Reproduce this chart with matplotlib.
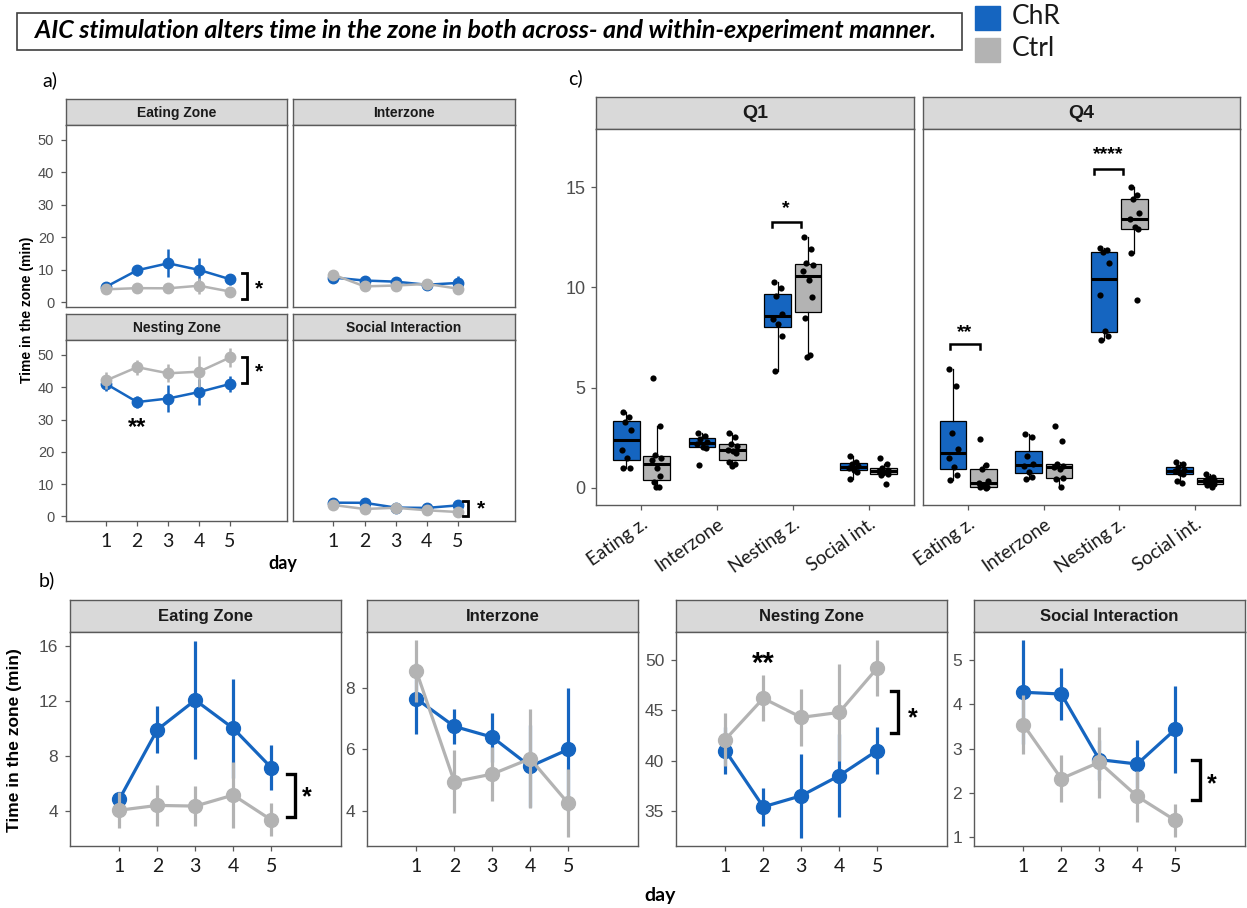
import matplotlib
matplotlib.use('Agg')
import matplotlib.pyplot as plt
from matplotlib.patches import Rectangle

W, H = 1247, 908
BLUE = '#1565C0'
GREY = '#B3B3B3'
EDGE = '#5a5a5a'
ARIAL = ['Liberation Sans', 'DejaVu Sans']
CALI = ['Lato', 'DejaVu Sans']

# mean time in zone per day (min) and error
days = [1, 2, 3, 4, 5]
eat_chr = [4.85, 9.9, 12.05, 10.0, 7.15]
eat_chr_se = [0.55, 1.7, 4.3, 3.6, 1.65]
eat_ctrl = [4.05, 4.4, 4.35, 5.15, 3.35]
eat_ctrl_se = [1.3, 1.5, 1.45, 2.4, 1.2]
inter_chr = [7.65, 6.75, 6.4, 5.45, 6.0]
inter_chr_se = [1.15, 0.58, 0.8, 1.33, 2.0]
inter_ctrl = [8.55, 4.95, 5.2, 5.7, 4.25]
inter_ctrl_se = [1.0, 1.02, 0.87, 1.6, 1.1]
nest_chr = [41.0, 35.4, 36.5, 38.5, 41.0]
nest_chr_se = [2.3, 1.9, 4.2, 4.1, 2.35]
nest_ctrl = [42.1, 46.2, 44.3, 44.8, 49.2]
nest_ctrl_se = [2.6, 2.3, 2.8, 4.8, 2.8]
soc_chr = [4.27, 4.23, 2.75, 2.65, 3.43]
soc_chr_se = [1.17, 0.58, 0.45, 0.55, 0.99]
soc_ctrl = [3.54, 2.32, 2.69, 1.92, 1.38]
soc_ctrl_se = [0.66, 0.53, 0.8, 0.58, 0.37]

zone_names = ['Eating Zone', 'Interzone', 'Nesting Zone', 'Social Interaction']
zone_short = ['Eating z.', 'Interzone', 'Nesting z.', 'Social int.']

# per-animal time in zone, first (Q1) and last (Q4) quarter
q1_eat_chr = [3.78, 3.54, 3.28, 2.88, 1.91, 1.5, 0.98, 0.98]
q1_eat_ctrl = [5.5, 3.1, 1.65, 1.5, 1.4, 1.0, 0.6, 0.3, 0.05, 0.05]
q1_inter_chr = [2.75, 2.6, 2.45, 2.3, 2.2, 2.05, 2.0, 1.15]
q1_inter_ctrl = [2.75, 2.55, 2.2, 2.1, 1.9, 1.85, 1.75, 1.3, 1.2, 1.1]
q1_nest_chr = [10.25, 9.95, 9.55, 8.65, 8.45, 8.2, 7.6, 5.85]
q1_nest_ctrl = [12.5, 11.9, 11.2, 11.1, 10.8, 10.35, 9.5, 8.5, 6.65, 6.55]
q1_soc_chr = [1.6, 1.3, 1.2, 1.1, 1.0, 0.9, 0.8, 0.45]
q1_soc_ctrl = [1.5, 1.2, 1.0, 0.9, 0.85, 0.8, 0.7, 0.65, 0.2]
q4_eat_chr = [5.95, 5.1, 2.75, 1.95, 1.5, 1.05, 0.65, 0.4]
q4_eat_ctrl = [2.45, 1.15, 0.95, 0.35, 0.25, 0.12, 0.05, 0.03, 0.02]
q4_inter_chr = [2.7, 2.55, 1.6, 1.2, 1.1, 0.8, 0.55, 0.45]
q4_inter_ctrl = [3.1, 2.35, 1.2, 1.1, 1.05, 0.95, 0.5, 0.45, 0.05]
q4_nest_chr = [11.95, 11.85, 11.75, 11.2, 9.6, 7.85, 7.6, 7.4]
q4_nest_ctrl = [15.0, 14.6, 14.4, 13.7, 13.4, 13.0, 12.9, 11.7, 9.35]
q4_soc_chr = [1.3, 1.2, 1.05, 0.9, 0.85, 0.75, 0.7, 0.35, 0.25]
q4_soc_ctrl = [0.7, 0.55, 0.5, 0.4, 0.35, 0.3, 0.2, 0.15, 0.05]

JIT = [-0.05, 0.04, -0.02, 0.06, -0.06, 0.01, 0.05, -0.04, 0.03, -0.01]

fig = plt.figure(figsize=(W / 100, H / 100), dpi=100)


def px_axes(x0, y0, x1, y1):
    return fig.add_axes([x0 / W, 1 - y1 / H, (x1 - x0) / W, (y1 - y0) / H])


def px_text(x, y, s, **kw):
    fig.text(x / W, 1 - y / H, s, **kw)


def strip(x0, y0, x1, y1, label, size):
    ax = px_axes(x0, y0, x1, y1)
    ax.set_facecolor('#D9D9D9')
    ax.set_xticks([])
    ax.set_yticks([])
    for s in ax.spines.values():
        s.set_color(EDGE)
        s.set_linewidth(1.0)
    ax.text(0.5, 0.47, label, ha='center', va='center', fontsize=size,
            fontweight='bold', color='#1a1a1a', family=ARIAL, transform=ax.transAxes)


def frame(ax, ysize, xsize):
    for s in ax.spines.values():
        s.set_color(EDGE)
        s.set_linewidth(1.0)
    ax.tick_params(color=EDGE, length=3.5, width=0.9)
    for t in ax.get_yticklabels():
        t.set_family(ARIAL)
        t.set_fontsize(ysize)
        t.set_color('#4d4d4d')
    for t in ax.get_xticklabels():
        t.set_family(CALI)
        t.set_fontsize(xsize)
        t.set_color('#1a1a1a')


def day_lines(ax, cm, cse, gm, gse, ms, lw):
    ax.errorbar(days, cm, yerr=cse, color=BLUE, lw=lw, elinewidth=lw, marker='o',
                ms=ms, capsize=0, zorder=2)
    ax.errorbar(days, gm, yerr=gse, color=GREY, lw=lw, elinewidth=lw, marker='o',
                ms=ms, capsize=0, zorder=3)
    ax.set_xlim(-0.3, 6.84)
    ax.set_xticks(days)


def bracket_v(ax, x, y0, y1, tick, lw):
    ax.plot([x - tick, x, x, x - tick], [y1, y1, y0, y0], color='black', lw=lw,
            clip_on=False, solid_joinstyle='miter', zorder=5)


def bracket_h(ax, x0, x1, y, drop):
    ax.plot([x0, x0, x1, x1], [y - drop, y, y, y - drop], color='black', lw=1.8,
            clip_on=False, solid_joinstyle='miter', zorder=5)


def star(ax, x, y, s, size):
    ax.text(x, y, s, ha='center', va='center', fontsize=size, fontweight='bold',
            family=ARIAL, color='black', clip_on=False, zorder=6)


# ---- title and legend ----
fig.patches.append(Rectangle((17 / W, 1 - 50 / H), (962 - 17) / W, 37 / H,
                             transform=fig.transFigure, fill=False, ec='#404040', lw=1.2))
px_text(486, 31, 'AIC stimulation alters time in the zone in both across- and within-experiment manner.',
        ha='center', va='center', fontsize=18, fontweight='bold', style='italic',
        family=CALI, color='black')
fig.patches.append(Rectangle((975 / W, 1 - 30 / H), 25 / W, 24 / H,
                             transform=fig.transFigure, color=BLUE))
fig.patches.append(Rectangle((975 / W, 1 - 62 / H), 25 / W, 24 / H,
                             transform=fig.transFigure, color=GREY))
px_text(1012, 17, 'ChR', ha='left', va='center', fontsize=19, family=CALI, color='#1a1a1a')
px_text(1012, 49, 'Ctrl', ha='left', va='center', fontsize=19, family=CALI, color='#1a1a1a')

# ---- panel a: all zones on a common scale ----
px_text(50, 80, 'a)', ha='center', va='center', fontsize=14, family=CALI)
a_series = [(eat_chr, eat_chr_se, eat_ctrl, eat_ctrl_se),
            (inter_chr, inter_chr_se, inter_ctrl, inter_ctrl_se),
            (nest_chr, nest_chr_se, nest_ctrl, nest_ctrl_se),
            (soc_chr, soc_chr_se, soc_ctrl, soc_ctrl_se)]
a_cols = [(66, 287), (293, 515)]
a_rows = [(99, 125, 307), (314, 340, 521)]
a_axes = []
for i, (name, ser) in enumerate(zip(zone_names, a_series)):
    r, c = divmod(i, 2)
    x0, x1 = a_cols[c]
    s0, p0, p1 = a_rows[r]
    strip(x0, s0, x1, p0, name, 10)
    ax = px_axes(x0, p0, x1, p1)
    day_lines(ax, *ser, ms=7.5, lw=1.8)
    ax.set_ylim(-1.4, 54.6)
    ax.set_yticks([0, 10, 20, 30, 40, 50])
    ax.tick_params(left=(c == 0), labelleft=(c == 0),
                   bottom=(r == 1), labelbottom=(r == 1), pad=5)
    frame(ax, 10.5, 14)
    a_axes.append(ax)

bracket_v(a_axes[0], 5.55, 1.0, 9.0, 0.16, 2.0)
star(a_axes[0], 5.95, 4.2, '*', 15)
bracket_v(a_axes[2], 5.55, 41.4, 49.4, 0.16, 2.0)
star(a_axes[2], 5.95, 44.6, '*', 15)
bracket_v(a_axes[3], 5.32, 0.0, 4.9, 0.16, 2.0)
star(a_axes[3], 5.74, 2.4, '*', 15)
star(a_axes[2], 2.0, 27.5, '**', 17)
px_text(27, 310, 'Time in the zone (min)', ha='center', va='center', rotation=90,
        fontsize=10, fontweight='bold', family=ARIAL)
px_text(283, 563, 'day', ha='center', va='center', fontsize=13, fontweight='bold', family=CALI)

# ---- panel b: each zone on its own scale ----
px_text(47, 580, 'b)', ha='center', va='center', fontsize=14, family=CALI)
b_cols = [(70, 341), (367, 638), (676, 947), (974, 1245)]
b_ylims = [(1.45, 17.0), (2.86, 9.82), (31.5, 52.8), (0.8, 5.63)]
b_yticks = [[4, 8, 12, 16], [4, 6, 8], [35, 40, 45, 50], [1, 2, 3, 4, 5]]
b_axes = []
for name, ser, (x0, x1), yl, yt in zip(zone_names, a_series, b_cols, b_ylims, b_yticks):
    strip(x0, 600, x1, 632, name, 12)
    ax = px_axes(x0, 632, x1, 846)
    day_lines(ax, *ser, ms=10, lw=2.3)
    ax.set_ylim(*yl)
    ax.set_yticks(yt)
    ax.tick_params(pad=5)
    frame(ax, 12.5, 14)
    b_axes.append(ax)

bracket_v(b_axes[0], 5.63, 3.56, 6.7, 0.21, 2.4)
star(b_axes[0], 5.95, 5.0, '*', 18)
bracket_v(b_axes[2], 5.56, 42.7, 46.9, 0.19, 2.4)
star(b_axes[2], 5.93, 44.2, '*', 18)
star(b_axes[2], 2.0, 49.6, '**', 21)
bracket_v(b_axes[3], 5.66, 1.83, 2.75, 0.21, 2.4)
star(b_axes[3], 5.97, 2.2, '*', 18)
px_text(15, 740, 'Time in the zone (min)', ha='center', va='center', rotation=90,
        fontsize=12.5, fontweight='bold', family=ARIAL)
px_text(660, 896, 'day', ha='center', va='center', fontsize=14, fontweight='bold', family=CALI)

# ---- panel c: boxplots per quarter ----
px_text(575, 78, 'c)', ha='center', va='center', fontsize=14, family=CALI)
quarters = [
    ('Q1', (596, 914), [(q1_eat_chr, q1_eat_ctrl), (q1_inter_chr, q1_inter_ctrl),
                        (q1_nest_chr, q1_nest_ctrl), (q1_soc_chr, q1_soc_ctrl)]),
    ('Q4', (923, 1240), [(q4_eat_chr, q4_eat_ctrl), (q4_inter_chr, q4_inter_ctrl),
                         (q4_nest_chr, q4_nest_ctrl), (q4_soc_chr, q4_soc_ctrl)]),
]
c_axes = []
for qi, (qname, (x0, x1), groups) in enumerate(quarters):
    strip(x0, 97, x1, 129, qname, 14)
    ax = px_axes(x0, 129, x1, 505)
    for k, (g_chr, g_ctrl) in enumerate(groups):
        for vals, off, col in ((g_chr, -0.2, BLUE), (g_ctrl, 0.2, GREY)):
            pos = k + 1 + off
            ax.boxplot([vals], positions=[pos], widths=0.35, patch_artist=True,
                       showfliers=False, showcaps=False,
                       boxprops=dict(facecolor=col, edgecolor='black', lw=0.9),
                       medianprops=dict(color='black', lw=2.2),
                       whiskerprops=dict(color='black', lw=0.9), zorder=2)
            xs = [pos + JIT[j % len(JIT)] for j in range(len(vals))]
            ax.scatter(xs, vals, s=20, color='black', zorder=4, lw=0)
    ax.set_xlim(0.4, 4.6)
    ax.set_ylim(-0.85, 17.9)
    ax.set_yticks([0, 5, 10, 15])
    ax.set_xticks([1, 2, 3, 4])
    ax.set_xticklabels(zone_short, rotation=35, ha='right', va='top', rotation_mode='anchor')
    ax.tick_params(left=(qi == 0), labelleft=(qi == 0), pad=4)
    frame(ax, 13, 13.5)
    c_axes.append(ax)

bracket_h(c_axes[0], 2.72, 3.11, 13.25, 0.25)
star(c_axes[0], 2.9, 13.95, '*', 14)
bracket_h(c_axes[1], 0.76, 1.15, 7.17, 0.25)
star(c_axes[1], 0.95, 7.75, '**', 14)
bracket_h(c_axes[1], 2.66, 3.05, 15.9, 0.25)
star(c_axes[1], 2.86, 16.6, '****', 14)

fig.savefig('out.png', dpi=100, facecolor='white')
